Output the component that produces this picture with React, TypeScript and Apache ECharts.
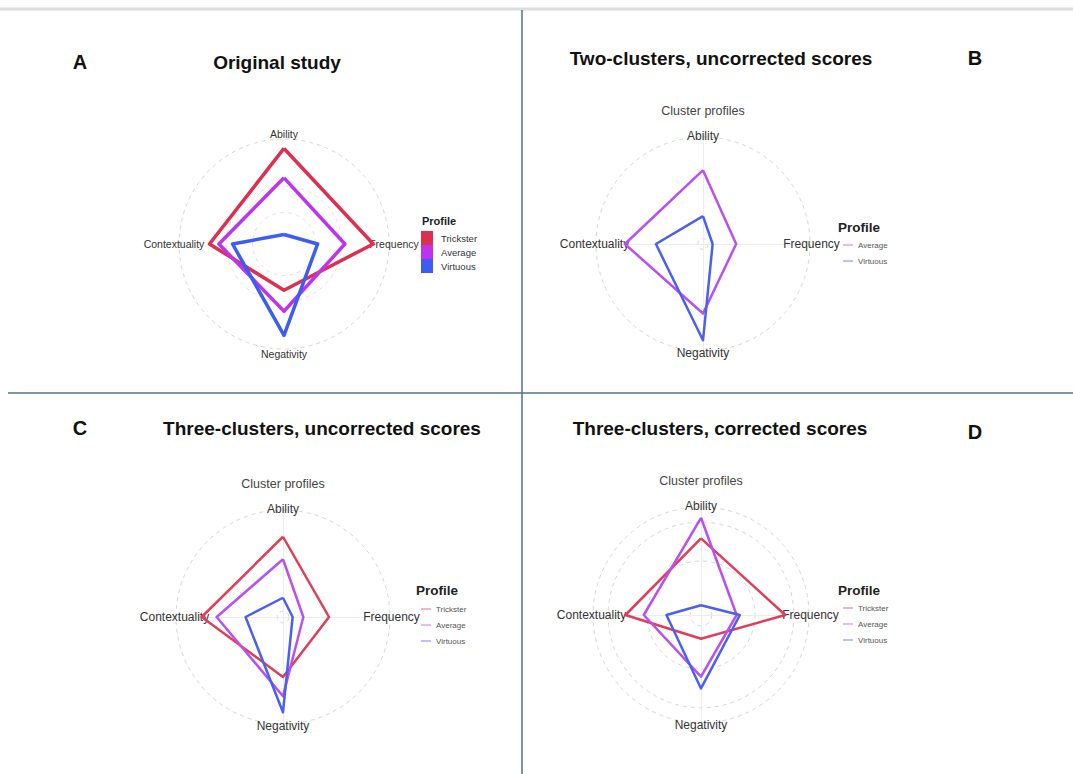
import React, { useEffect, useRef } from "react";
import * as echarts from "echarts";

// Axes listed clockwise from the top
const AXES = ["Ability", "Frequency", "Negativity", "Contextuality"];
const PROFILES = ["Trickster", "Average", "Virtuous"];

// Panel A – Original study
const A_TRICKSTER = [0.91, 0.85, 0.44, 0.71];
const A_AVERAGE = [0.63, 0.58, 0.64, 0.62];
const A_VIRTUOUS = [0.09, 0.32, 0.87, 0.49];

// Panel B – Two clusters, uncorrected
const B_AVERAGE = [0.69, 0.31, 0.65, 0.73];
const B_VIRTUOUS = [0.26, 0.09, 0.9, 0.44];

// Panel C – Three clusters, uncorrected
const C_TRICKSTER = [0.75, 0.43, 0.56, 0.76];
const C_AVERAGE = [0.54, 0.19, 0.74, 0.62];
const C_VIRTUOUS = [0.18, 0.09, 0.89, 0.35];

// Panel D – Three clusters, corrected
const D_TRICKSTER = [0.71, 0.78, 0.22, 0.7];
const D_AVERAGE = [0.9, 0.33, 0.57, 0.53];
const D_VIRTUOUS = [0.09, 0.36, 0.68, 0.32];

const FONT = "'Liberation Sans', Arial, Helvetica, sans-serif";

// ECharts places radar indicators counter-clockwise from the top
const toRadarOrder = (v: any[]) => [v[0], v[3], v[2], v[1]];

const COLORS_A: Record<string, string> = {
  Trickster: "#dd2f50",
  Average: "#be34ee",
  Virtuous: "#3d5df2",
};
const COLORS: Record<string, string> = {
  Trickster: "#e03d56",
  Average: "#b950ef",
  Virtuous: "#4b5ff0",
};
const LEGEND_LINE: Record<string, string> = {
  Trickster: "rgba(224,61,86,0.55)",
  Average: "rgba(185,80,239,0.55)",
  Virtuous: "rgba(75,95,240,0.55)",
};

type Panel = {
  key: string;
  title: string;
  letter: string;
  titleX: number;
  titleY: number;
  letterX: number;
  letterY: number;
  cx: number;
  cy: number;
  r: number;
  rings: number[];
  axisLine: boolean;
  nameSize: number;
  nameGap: number;
  lineWidth: number;
  series: { name: string; values: number[] }[];
  subtitle: boolean;
  legendStyle: "block" | "line";
  legendX: number;
  legendTitleY: number;
  legendTop: number;
  colors: Record<string, string>;
};

const PANELS: Panel[] = [
  {
    key: "A",
    title: "Original study",
    letter: "A",
    titleX: 277,
    titleY: 62,
    letterX: 80,
    letterY: 62,
    cx: 284,
    cy: 244,
    r: 105,
    rings: [0.55, 0.3],
    axisLine: false,
    nameSize: 10.5,
    nameGap: 5,
    lineWidth: 3.5,
    series: [
      { name: PROFILES[0], values: A_TRICKSTER },
      { name: PROFILES[1], values: A_AVERAGE },
      { name: PROFILES[2], values: A_VIRTUOUS },
    ],
    subtitle: false,
    legendStyle: "block",
    legendX: 421,
    legendTitleY: 221,
    legendTop: 231,
    colors: COLORS_A,
  },
  {
    key: "B",
    title: "Two-clusters, uncorrected scores",
    letter: "B",
    titleX: 721,
    titleY: 58,
    letterX: 975,
    letterY: 58,
    cx: 703,
    cy: 244,
    r: 107,
    rings: [0.05],
    axisLine: true,
    nameSize: 12,
    nameGap: 1.5,
    lineWidth: 2.5,
    series: [
      { name: PROFILES[1], values: B_AVERAGE },
      { name: PROFILES[2], values: B_VIRTUOUS },
    ],
    subtitle: true,
    legendStyle: "line",
    legendX: 843,
    legendTitleY: 227,
    legendTop: 240,
    colors: COLORS,
  },
  {
    key: "C",
    title: "Three-clusters, uncorrected scores",
    letter: "C",
    titleX: 322,
    titleY: 428,
    letterX: 80,
    letterY: 428,
    cx: 283,
    cy: 617,
    r: 107,
    rings: [0.055],
    axisLine: true,
    nameSize: 12,
    nameGap: 1.5,
    lineWidth: 2.5,
    series: [
      { name: PROFILES[0], values: C_TRICKSTER },
      { name: PROFILES[1], values: C_AVERAGE },
      { name: PROFILES[2], values: C_VIRTUOUS },
    ],
    subtitle: true,
    legendStyle: "line",
    legendX: 421,
    legendTitleY: 590,
    legendTop: 604,
    colors: COLORS,
  },
  {
    key: "D",
    title: "Three-clusters, corrected scores",
    letter: "D",
    titleX: 720,
    titleY: 428,
    letterX: 975,
    letterY: 432,
    cx: 701,
    cy: 615,
    r: 108,
    rings: [0.86, 0.5, 0.1],
    axisLine: true,
    nameSize: 12,
    nameGap: 1.5,
    lineWidth: 2.5,
    series: [
      { name: PROFILES[0], values: D_TRICKSTER },
      { name: PROFILES[1], values: D_AVERAGE },
      { name: PROFILES[2], values: D_VIRTUOUS },
    ],
    subtitle: true,
    legendStyle: "line",
    legendX: 843,
    legendTitleY: 590,
    legendTop: 603,
    colors: COLORS,
  },
];

function buildOption() {
  const indicator = toRadarOrder(AXES).map((n) => ({ name: n, min: 0, max: 1 }));
  const radar: any[] = [];
  const series: any[] = [];
  const legend: any[] = [];
  const graphic: any[] = [
    // frame
    { type: "line", shape: { x1: 0, y1: 9, x2: 1073, y2: 9 }, style: { stroke: "#dcdcdc", lineWidth: 3 }, silent: true },
    { type: "line", shape: { x1: 522, y1: 10, x2: 522, y2: 774 }, style: { stroke: "#52708c", lineWidth: 1.5 }, silent: true },
    { type: "line", shape: { x1: 8, y1: 393, x2: 1073, y2: 393 }, style: { stroke: "#52708c", lineWidth: 1.5 }, silent: true },
  ];

  PANELS.forEach((p) => {
    const mainIndex = radar.length;
    radar.push({
      center: [p.cx, p.cy],
      radius: p.r,
      shape: "circle",
      startAngle: 90,
      splitNumber: 1,
      indicator,
      nameGap: p.nameGap,
      axisName: {
        color: "#333",
        fontSize: p.nameSize,
        fontFamily: FONT,
        align: "center",
        verticalAlign: "middle",
      },
      axisLine: { show: p.axisLine, lineStyle: { color: "#ececec", width: 1 } },
      axisTick: { show: false },
      axisLabel: { show: false },
      splitLine: { lineStyle: { color: "#d6d6d6", type: [4, 4], width: 1 } },
      splitArea: { show: false },
    });
    p.rings.forEach((f) => {
      radar.push({
        center: [p.cx, p.cy],
        radius: p.r * f,
        shape: "circle",
        startAngle: 90,
        splitNumber: 1,
        indicator,
        axisName: { show: false },
        axisLine: { show: false },
        axisTick: { show: false },
        axisLabel: { show: false },
        splitLine: { lineStyle: { color: p.key === "A" ? "#e2e2e2" : "#d6d6d6", type: [4, 4], width: 1 } },
        splitArea: { show: false },
        silent: true,
      });
    });

    series.push({
      type: "radar",
      radarIndex: mainIndex,
      symbol: "none",
      z: 5,
      data: p.series.map((s) => ({
        name: s.name,
        value: toRadarOrder(s.values),
        lineStyle: { color: p.colors[s.name], width: p.lineWidth },
        itemStyle: { color: p.colors[s.name] },
        areaStyle: { opacity: 0 },
      })),
    });

    const names = p.series.map((s) => s.name);
    if (p.legendStyle === "block") {
      legend.push({
        orient: "vertical",
        left: p.legendX,
        top: p.legendTop,
        padding: 0,
        itemGap: 0,
        itemWidth: 12,
        itemHeight: 14,
        icon: "rect",
        selectedMode: false,
        textStyle: { fontSize: 9.5, color: "#333", fontFamily: FONT, padding: [0, 0, 0, 3] },
        data: names.map((n) => ({ name: n, itemStyle: { color: p.colors[n] } })),
      });
      graphic.push({
        type: "text",
        x: p.legendX + 1,
        y: p.legendTitleY,
        style: { text: "Profile", font: `bold 11px ${FONT}`, fill: "#222", textAlign: "left", textVerticalAlign: "middle" },
      });
    } else {
      legend.push({
        orient: "vertical",
        left: p.legendX,
        top: p.legendTop,
        padding: 0,
        itemGap: 6,
        itemWidth: 10,
        itemHeight: 1.4,
        icon: "rect",
        selectedMode: false,
        textStyle: { fontSize: 8, lineHeight: 10, color: "#555", fontFamily: FONT },
        data: names.map((n) => ({ name: n, itemStyle: { color: LEGEND_LINE[n] } })),
      });
      graphic.push({
        type: "text",
        x: p.legendX - 5,
        y: p.legendTitleY,
        style: { text: "Profile", font: `bold 13.5px ${FONT}`, fill: "#222", textAlign: "left", textVerticalAlign: "middle" },
      });
    }

    graphic.push({
      type: "text",
      x: p.titleX,
      y: p.titleY,
      style: { text: p.title, font: `bold 19px ${FONT}`, fill: "#111", textAlign: "center", textVerticalAlign: "middle" },
    });
    graphic.push({
      type: "text",
      x: p.letterX,
      y: p.letterY,
      style: { text: p.letter, font: `bold 20px ${FONT}`, fill: "#111", textAlign: "center", textVerticalAlign: "middle" },
    });
    if (p.subtitle) {
      graphic.push({
        type: "text",
        x: p.cx,
        y: p.cy - p.r - 26,
        style: { text: "Cluster profiles", font: `12.5px ${FONT}`, fill: "#444", textAlign: "center", textVerticalAlign: "middle" },
      });
    }
  });

  return {
    animation: false,
    backgroundColor: "#ffffff",
    radar,
    series,
    legend,
    graphic,
  };
}

export default function App() {
  const ref = useRef<HTMLDivElement>(null);
  useEffect(() => {
    document.body.style.margin = "0";
    const chart = echarts.init(ref.current!, null, { renderer: "svg" });
    chart.setOption(buildOption() as any);
    return () => chart.dispose();
  }, []);
  return <div ref={ref} style={{ width: 1073, height: 774 }} />;
}
